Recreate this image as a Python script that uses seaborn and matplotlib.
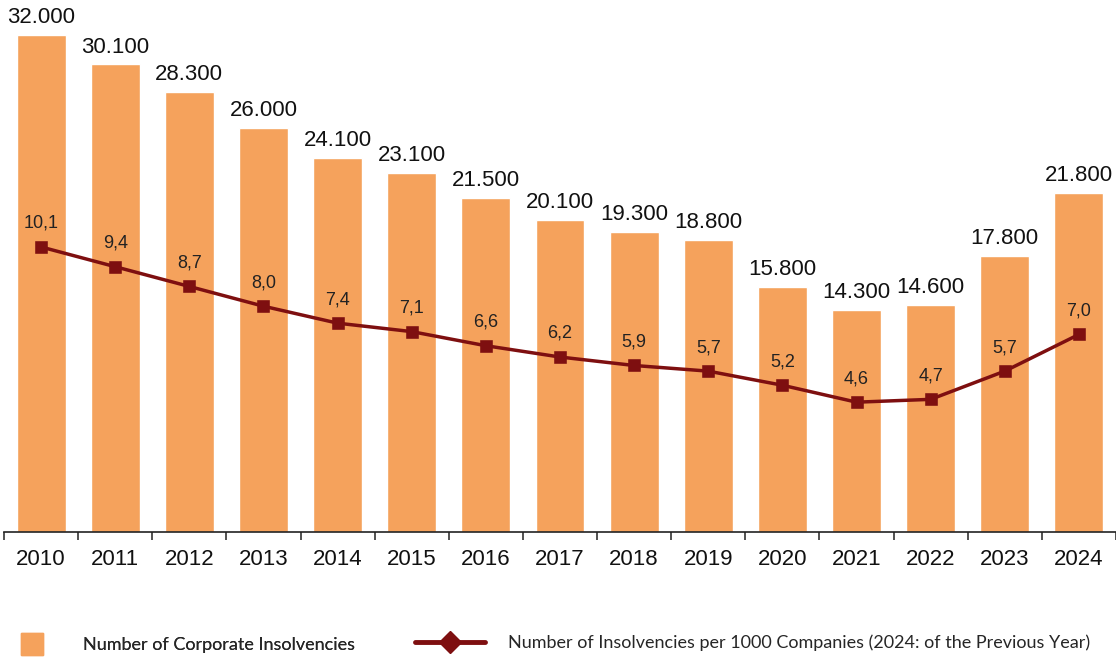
import matplotlib
matplotlib.use("Agg")
import matplotlib.pyplot as plt
import matplotlib.lines as mlines
import matplotlib.patches as mpatches
import numpy as np
import pandas as pd
import seaborn as sns

years = ["2010", "2011", "2012", "2013", "2014", "2015", "2016", "2017",
         "2018", "2019", "2020", "2021", "2022", "2023", "2024"]
insolvencies = [32000, 30100, 28300, 26000, 24100, 23100, 21500, 20100,
                19300, 18800, 15800, 14300, 14600, 17800, 21800]
per_1000 = [10.1, 9.4, 8.7, 8.0, 7.4, 7.1, 6.6, 6.2,
            5.9, 5.7, 5.2, 4.6, 4.7, 5.7, 7.0]

bar_legend = "Number of Corporate Insolvencies"
line_legend = "Number of Insolvencies per 1000 Companies (2024: of the Previous Year)"

BAR_COLOR = "#F5A25C"
LINE_COLOR = "#7E0F10"

sns.set_theme(style="white")
plt.rcParams["font.family"] = ["Liberation Sans", "DejaVu Sans"]

df = pd.DataFrame({"year": years, "count": insolvencies, "rate": per_1000})

fig = plt.figure(figsize=(11.16, 6.57), dpi=100)
ax = fig.add_axes([4 / 1116, (657 - 532) / 657, 1 - 4 / 1116, 532 / 657])

sns.barplot(data=df, x="year", y="count", color=BAR_COLOR, width=0.66,
            saturation=1, ax=ax)
ax.set_ylim(0, 34250)
ax.set_xlim(-0.5, len(years) - 0.5)

# bar value labels with German thousands separator
bar_texts = [f"{v:,}".replace(",", ".") for v in insolvencies]
ax.bar_label(ax.containers[0], labels=bar_texts, padding=5, fontsize=16,
             color="#111111")

# rate line on a secondary axis
ax2 = ax.twinx()
sns.pointplot(data=df, x="year", y="rate", color=LINE_COLOR, markers="s",
              markersize=7.5, linewidth=2.5, ax=ax2)
ax2.set_ylim(0, 18.85)
ax2.set_xlim(-0.5, len(years) - 0.5)
for i, v in enumerate(per_1000):
    ax2.annotate(f"{v:.1f}".replace(".", ","), (i, v), xytext=(0, 17),
                 textcoords="offset points", ha="center", va="center",
                 fontsize=13, color="#222222")

# axes styling
for a in (ax, ax2):
    for side in ("top", "right", "left"):
        a.spines[side].set_visible(False)
    a.set_ylabel("")
    a.set_xlabel("")
    a.set_yticks([])
ax.spines["bottom"].set_visible(True)
ax.spines["bottom"].set_color("#222222")
ax.spines["bottom"].set_linewidth(1.2)
ax2.spines["bottom"].set_visible(False)

# tick marks between categories, labels centred under each bar
ax.set_xticks(np.arange(-0.5, len(years), 1.0))
ax.set_xticklabels([])
ax.tick_params(axis="x", which="major", length=6, width=1.1, color="#222222",
               bottom=True, direction="out")
ax.set_xticks(np.arange(len(years)), minor=True)
ax.set_xticklabels(years, minor=True, fontsize=16, color="#111111")
ax.tick_params(axis="x", which="minor", length=0, pad=12)
ax2.tick_params(axis="x", which="both", length=0, labelbottom=False)

# legend
h_bar = mpatches.Patch(color=BAR_COLOR)
h_line = mlines.Line2D([], [], color=LINE_COLOR, linewidth=3.5, marker="D",
                       markersize=11)
leg_font = {"family": ["Lato", "DejaVu Sans"], "size": 13}
leg1 = fig.legend([h_bar], [bar_legend], loc="center left",
                  bbox_to_anchor=(0.012, 0.02), frameon=False, prop=leg_font,
                  handlelength=1.25, handleheight=1.45, handletextpad=2.2,
                  borderaxespad=0)
leg2 = fig.legend([h_line], [line_legend], loc="center left",
                  bbox_to_anchor=(0.365, 0.022), frameon=False, prop=leg_font,
                  handlelength=3.9, handletextpad=1.3, borderaxespad=0)
fig.add_artist(leg1)

fig.savefig("out.png", dpi=100)
